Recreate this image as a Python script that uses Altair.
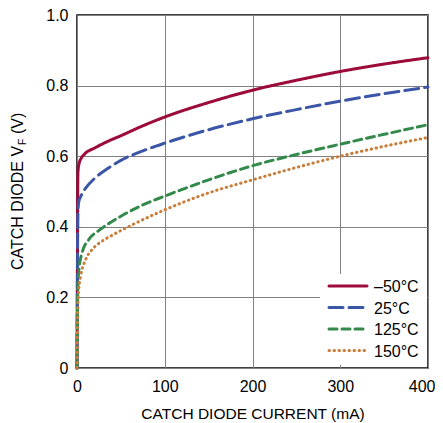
import altair as alt
import pandas as pd

series = ["\u201350\u00b0C", "25\u00b0C", "125\u00b0C", "150\u00b0C"]

i_m50 = [0, 0.5, 1, 2, 5, 9, 20, 35, 50, 75, 100, 150, 200, 250, 300, 350, 400]
v_m50 = [0, 0.30, 0.55, 0.575, 0.595, 0.607, 0.623, 0.642, 0.658, 0.686, 0.711, 0.752, 0.787, 0.815, 0.840, 0.861, 0.879]

i_25 = [0, 0.5, 1, 2, 5, 10, 20, 35, 50, 75, 100, 150, 200, 250, 300, 350, 400]
v_25 = [0, 0.25, 0.44, 0.47, 0.49, 0.51, 0.537, 0.565, 0.588, 0.615, 0.637, 0.675, 0.706, 0.732, 0.756, 0.777, 0.796]

i_125 = [0, 0.5, 1, 2, 6, 13.5, 25, 36, 50, 75, 100, 150, 200, 250, 300, 350, 400]
v_125 = [0, 0.15, 0.23, 0.275, 0.328, 0.364, 0.39, 0.409, 0.43, 0.462, 0.487, 0.533, 0.573, 0.605, 0.634, 0.662, 0.689]

i_150 = [0, 0.5, 1, 2, 4, 10, 17, 29, 40, 60, 100, 150, 200, 250, 300, 350, 400]
v_150 = [0, 0.12, 0.18, 0.222, 0.258, 0.308, 0.335, 0.36, 0.376, 0.402, 0.448, 0.496, 0.533, 0.568, 0.600, 0.628, 0.653]

x_ticks = [0, 100, 200, 300, 400]
y_ticks = [0, 0.2, 0.4, 0.6, 0.8, 1.0]

colors = ["#9d0b3a", "#3b56a6", "#33894a", "#c97d3b"]
dashes = [[1, 0], [14, 6], [8, 5], [0.5, 4.5]]

rows = []
for name, xs, ys in zip(series, [i_m50, i_25, i_125, i_150], [v_m50, v_25, v_125, v_150]):
    for k, (a, b) in enumerate(zip(xs, ys)):
        rows.append({"series": name, "current": a, "vf": b, "order": k})
df = pd.DataFrame(rows)

FONT = "Liberation Sans, Arial, sans-serif"

lines = alt.Chart(df).mark_line(strokeWidth=3, strokeCap="round", interpolate="monotone").encode(
    x=alt.X("current:Q", scale=alt.Scale(domain=[0, 400], nice=False),
            axis=alt.Axis(values=x_ticks, title="CATCH DIODE CURRENT (mA)", ticks=False,
                          labelPadding=10, titlePadding=12, grid=True, labelFlush=False,
                          labelAlign={"condition": {"test": "datum.value == 400", "value": "right"},
                                      "value": "center"},
                          labelOffset={"condition": {"test": "datum.value == 400", "value": 7},
                                       "value": 0})),
    y=alt.Y("vf:Q", scale=alt.Scale(domain=[0, 1], nice=False),
            axis=alt.Axis(values=y_ticks, title=None, ticks=False, labelPadding=9, grid=True,
                          labelFlush=False,
                          labelExpr="datum.value == 0 ? '0' : format(datum.value, '.1f')")),
    color=alt.Color("series:N", scale=alt.Scale(domain=series, range=colors), legend=None),
    strokeDash=alt.StrokeDash("series:N", scale=alt.Scale(domain=series, range=dashes), legend=None),
    order="order:Q",
)

one = pd.DataFrame({"a": [0]})

legend_bg = alt.Chart(one).mark_rect(fill="white", stroke=None).encode(
    x=alt.value(243), x2=alt.value(350), y=alt.value(259), y2=alt.value(350))

legend_layers = [legend_bg]
for k, (name, col, dsh) in enumerate(zip(series, colors, dashes)):
    ly = 271 + 21.5 * k
    legend_layers.append(
        alt.Chart(one).mark_rule(color=col, strokeWidth=3, strokeDash=dsh, strokeCap="round").encode(
            x=alt.value(252), x2=alt.value(290), y=alt.value(ly)))
    legend_layers.append(
        alt.Chart(one).mark_text(text=name, align="left", baseline="middle", fontSize=16,
                                 font=FONT, color="black").encode(
            x=alt.value(297), y=alt.value(ly + 1)))

t1 = alt.Chart(one).mark_text(text="CATCH DIODE V", angle=270, align="left", baseline="middle",
                              fontSize=16, font=FONT, color="black").encode(
    x=alt.value(-59), y=alt.value(255))
t2 = alt.Chart(one).mark_text(text="F", angle=270, align="left", baseline="middle",
                              fontSize=10.5, font=FONT, color="black").encode(
    x=alt.value(-54), y=alt.value(130))
t3 = alt.Chart(one).mark_text(text="(V)", angle=270, align="left", baseline="middle",
                              fontSize=16, font=FONT, color="black").encode(
    x=alt.value(-59), y=alt.value(119))

chart = alt.layer(lines, *legend_layers, t1, t2, t3).properties(
    width=351, height=353,
    autosize=alt.AutoSizeParams(type="none"),
    padding={"left": 69, "top": 7, "right": 7, "bottom": 54},
).configure_view(stroke="black", strokeWidth=1.5).configure_axis(
    gridColor="#808080", gridWidth=1, gridOpacity=1, domain=False,
    labelFont=FONT, labelFontSize=16, labelColor="black",
    titleFont=FONT, titleFontSize=15.5, titleColor="black", titleFontWeight="normal",
)

chart.save("out.html", embed_options={"renderer": "svg", "actions": False})
